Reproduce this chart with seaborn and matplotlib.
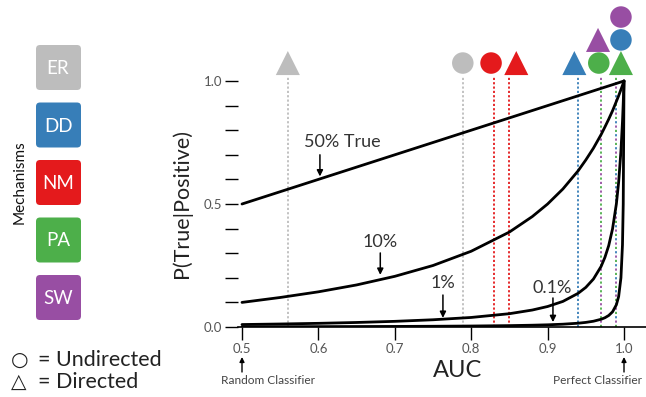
import matplotlib
matplotlib.use("Agg")
import matplotlib.pyplot as plt
from matplotlib.patches import FancyBboxPatch
import numpy as np
import pandas as pd
import seaborn as sns

# ---------------- data ----------------
auc = [0.50, 0.55, 0.60, 0.65, 0.70, 0.75, 0.80, 0.85, 0.88, 0.90, 0.92, 0.94,
       0.95, 0.96, 0.97, 0.975, 0.98, 0.985, 0.99, 0.993, 0.996, 0.998, 0.999, 1.0]
prec_50 = [0.50, 0.55, 0.60, 0.65, 0.70, 0.75, 0.80, 0.85, 0.88, 0.90, 0.92, 0.94,
           0.95, 0.96, 0.97, 0.975, 0.98, 0.985, 0.99, 0.993, 0.996, 0.998, 0.999, 1.0]
prec_10 = [0.100, 0.120, 0.143, 0.171, 0.206, 0.250, 0.308, 0.386, 0.449, 0.500, 0.561, 0.635,
           0.679, 0.727, 0.782, 0.813, 0.845, 0.879, 0.917, 0.940, 0.965, 0.982, 0.991, 1.0]
prec_1 = [0.0100, 0.0122, 0.0149, 0.0184, 0.0230, 0.0294, 0.0388, 0.0541, 0.0690, 0.0833, 0.104, 0.137,
          0.161, 0.195, 0.246, 0.283, 0.331, 0.399, 0.500, 0.589, 0.716, 0.834, 0.910, 1.0]
prec_01 = [0.0010, 0.0012, 0.0015, 0.0019, 0.0023, 0.0030, 0.0040, 0.0056, 0.0073, 0.0089, 0.0114, 0.0154,
           0.0187, 0.0235, 0.0314, 0.0376, 0.0468, 0.0617, 0.0902, 0.124, 0.200, 0.333, 0.500, 1.0]
base_labels = ["50% True", "10%", "1%", "0.1%"]

mechanisms = ["ER", "DD", "NM", "PA", "SW"]
mech_colors = ["#bdbdbd", "#377eb8", "#e41a1c", "#4daf4a", "#984ea3"]

# measured AUC per (mechanism, type) and where the marker sits above the plot
mark_mech = ["ER", "ER", "NM", "NM", "DD", "PA", "SW", "PA", "DD", "SW"]
mark_type = ["directed", "undirected", "undirected", "directed", "directed",
             "undirected", "directed", "directed", "undirected", "undirected"]
mark_auc = [0.56, 0.789, 0.830, 0.849, 0.940, 0.970, 0.970, 0.990, 0.990, 0.990]
mark_x = [0.560, 0.789, 0.826, 0.859, 0.935, 0.967, 0.966, 0.996, 0.996, 0.996]
mark_row = [0, 0, 0, 0, 0, 0, 1, 0, 1, 2]

# annotation positions for curve labels
lab_x = [0.631, 0.681, 0.763, 0.906]
lab_y = [0.752, 0.346, 0.179, 0.159]
arr_x = [0.602, 0.681, 0.763, 0.907]
arr_from = [0.700, 0.301, 0.130, 0.118]
arr_to = [0.612, 0.212, 0.037, 0.020]

# ---------------- style ----------------
sns.set_style("white")
plt.rcParams["font.family"] = ["Lato", "DejaVu Sans"]

W, H = 646, 397
fig = plt.figure(figsize=(W / 100, H / 100), dpi=100)

# main axes
x0 = 0.5 - 4 / 764
x1 = 0.5 + (W - 242) / 764
ax = fig.add_axes([238 / W, 70 / H, (W - 238) / W, 319.8 / H])

df = pd.DataFrame({
    "AUC": auc * 4,
    "prec": prec_50 + prec_10 + prec_1 + prec_01,
    "base": sum([[b] * len(auc) for b in base_labels], []),
})
sns.lineplot(data=df, x="AUC", y="prec", units="base", estimator=None, sort=False,
             color="black", lw=2.0, ax=ax, legend=False, zorder=5)
for l in ax.lines:
    l.set_solid_joinstyle("miter")

ax.set_xlim(x0, x1)
ax.set_ylim(0, 1.3)
for s in ["top", "right", "left"]:
    ax.spines[s].set_visible(False)
ax.spines["bottom"].set_color("black")
ax.spines["bottom"].set_linewidth(1.2)

ax.set_xticks([0.5, 0.6, 0.7, 0.8, 0.9, 1.0])
ax.set_xticklabels(["0.5", "0.6", "0.7", "0.8", "0.9", "1.0"])
yt = np.round(np.arange(0, 1.01, 0.1), 1)
ax.set_yticks(yt)
ax.set_yticklabels(["0.0" if v == 0 else "0.5" if v == 0.5 else "1.0" if v == 1.0 else "" for v in yt])
ax.tick_params(axis="both", which="major", length=9.5, width=1.0, color="black",
               labelcolor="#555555", labelsize=9.5, pad=2, direction="out", bottom=True, left=True)

ax.set_xlabel("AUC", fontsize=17, color="#222222")
ax.xaxis.set_label_coords((458 - 238) / 408, (327 - 360) / 319.8)
ax.set_ylabel("P(True|Positive)", fontsize=15.5, color="#222222")
ax.yaxis.set_label_coords(-0.113, 0.385)

# curve labels
for t, x, y, ax_, af, at in zip(base_labels, lab_x, lab_y, arr_x, arr_from, arr_to):
    ax.text(x, y, t, ha="center", va="center", fontsize=13, color="#333333")
    ax.annotate("", xy=(ax_, at), xytext=(ax_, af),
                arrowprops=dict(arrowstyle="-|>", color="black", lw=1.1, mutation_scale=9,
                                shrinkA=0, shrinkB=0))

# vertical dotted lines + markers
row_y = [1.073, 1.167, 1.260]
cmap = dict(zip(mechanisms, mech_colors))
groups = {}
for i, a in enumerate(mark_auc):
    groups.setdefault(a, []).append(i)
for a, idxs in groups.items():
    n = len(idxs)
    for k, i in enumerate(idxs):
        c = cmap[mark_mech[i]]
        if n == 1:
            ls = (0, (1.2, 1.2))
        else:
            ls = (k * 2.4, (1.2, 2.4 * n - 1.2))
        ax.plot([a, a], [0, 1.015], color=c, lw=1.3, linestyle=ls, zorder=2)

for i in range(len(mark_auc)):
    c = cmap[mark_mech[i]]
    m = "o" if mark_type[i] == "undirected" else "^"
    s = 240 if m == "o" else 300
    ax.scatter([mark_x[i]], [row_y[mark_row[i]]], marker=m, s=s, color=c,
               edgecolors="none", clip_on=False, zorder=6)

# classifier annotations under axis
for xv, txt, tx in [(0.5, "Random Classifier", 221), (1.0, "Perfect Classifier", 553)]:
    ax.annotate("", xy=(xv, (397 - 357) / H), xytext=(xv, (397 - 372) / H),
                xycoords=("data", "figure fraction"), textcoords=("data", "figure fraction"),
                arrowprops=dict(arrowstyle="-|>", color="black", lw=1.0, mutation_scale=7,
                                shrinkA=0, shrinkB=0), annotation_clip=False)
    fig.text(tx / W, 1 - 381 / H, txt, ha="left", va="center", fontsize=8.6,
             color="#444444")

# left legend in pixel coordinates
lax = fig.add_axes([0, 0, 1, 1], zorder=-1)
lax.set_xlim(0, W)
lax.set_ylim(H, 0)
lax.axis("off")
box_cy = [67.5, 125, 182.5, 240, 297.5]
for name, col, cy in zip(mechanisms, mech_colors, box_cy):
    p = FancyBboxPatch((36 + 4, cy - 22.5 + 4), 45 - 8, 45 - 8,
                       boxstyle="round,pad=4", fc=col, ec="none")
    lax.add_patch(p)
    lax.text(58, cy + 1, name, ha="center", va="center", color="white", fontsize=13.5)
lax.text(20, 182, "Mechanisms", rotation=90, ha="center", va="center", fontsize=11, color="#111111")
for yy, sym, txt in [(360, "○", "= Undirected"), (382, "△", "= Directed")]:
    lax.text(11, yy, sym, ha="left", va="center", fontsize=14.5, color="#222222",
             family=["DejaVu Sans"])
    lax.text(38, yy, txt, ha="left", va="center", fontsize=15.5, color="#222222")

fig.savefig("out.png", dpi=100)
